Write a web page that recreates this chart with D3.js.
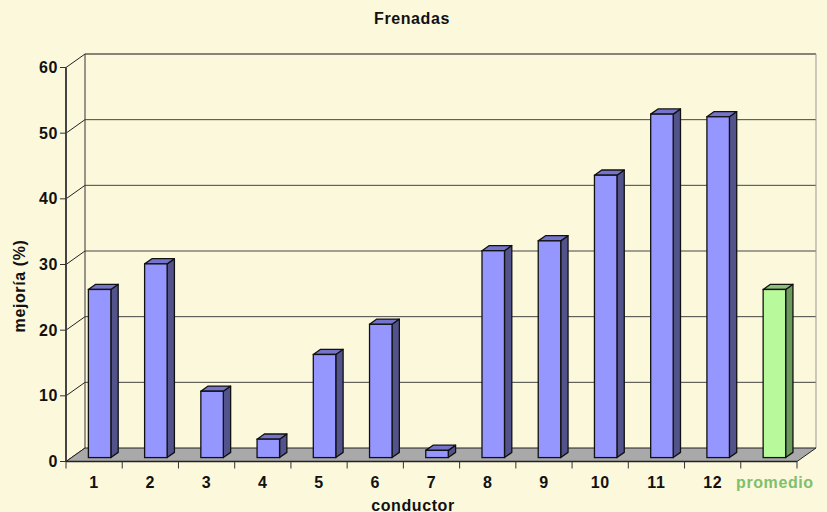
<!DOCTYPE html>
<html><head><meta charset="utf-8">
<script src="https://cdn.jsdelivr.net/npm/d3@7"></script>
<style>
html,body{margin:0;padding:0;background:#FCF8DC;}
svg{display:block;font-family:"Liberation Sans",Arial,Helvetica,sans-serif;}
</style></head>
<body><svg id="c" width="827" height="512"></svg>
<script>
const categories = ["1","2","3","4","5","6","7","8","9","10","11","12","promedio"];
const values = [25.6, 29.5, 10.1, 2.8, 15.7, 20.3, 1.1, 31.5, 33.0, 43.0, 52.3, 51.9, 25.6];
const yTicks = [0, 10, 20, 30, 40, 50, 60];
const title = "Frenadas";
const xTitle = "conductor";
const yTitle = "mejoría (%)";

const svg = d3.select("#c");
svg.append("rect").attr("width",827).attr("height",512).attr("fill","#FCF8DC");

const DX = 19, DY = -13.5;         // full depth offset
const F1 = 0.29, F2 = 0.675;        // bar front/back depth fractions
const x = d3.scaleBand().domain(categories).range([66, 797]).padding(0);
const y = d3.scaleLinear().domain([0, 60]).range([461.5, 67.5]);
const FS = 16, LS = 0.6;

// back wall gridlines + left wall diagonals
const g = svg.append("g");
yTicks.forEach(t => {
  g.append("line").attr("x1", 66).attr("y1", y(t)).attr("x2", 66+DX).attr("y2", y(t)+DY)
    .attr("stroke", "#222").attr("stroke-width", 1);
  if (t > 0) g.append("line").attr("x1", 66+DX).attr("y1", y(t)+DY).attr("x2", 797+DX).attr("y2", y(t)+DY)
    .attr("stroke", t === 60 ? "#111" : "#444").attr("stroke-width", 1);
});
g.append("line").attr("x1", 66+DX).attr("y1", y(60)+DY).attr("x2", 66+DX).attr("y2", y(0)+DY)
  .attr("stroke", "#333").attr("stroke-width", 1);
g.append("line").attr("x1", 797+DX).attr("y1", y(60)+DY).attr("x2", 797+DX).attr("y2", y(0)+DY)
  .attr("stroke", "#999").attr("stroke-width", 1);

// floor
g.append("polygon")
  .attr("points", [[66,y(0)],[797,y(0)],[797+DX,y(0)+DY],[66+DX,y(0)+DY]].map(p=>p.join(",")).join(" "))
  .attr("fill", "#A9A9A9").attr("stroke", "#222").attr("stroke-width", 1);

// bars
const bw = x.bandwidth() / 2.5;
const bars = svg.append("g");
categories.forEach((c, i) => {
  const v = values[i];
  const isAvg = c === "promedio";
  const front = isAvg ? "#B8F99C" : "#9696FF";
  const top = isAvg ? "#8CC07A" : "#7474CC";
  const side = isAvg ? "#6C9A5C" : "#53538C";
  const x0 = x(c) + (x.bandwidth() - bw) / 2 + DX*F1;
  const x1 = x0 + bw;
  const yb = y(0) + DY*F1;
  const yt = y(v) + DY*F1;
  const ddx = DX*(F2-F1), ddy = DY*(F2-F1);
  const pts = a => a.map(p=>p.join(",")).join(" ");
  bars.append("polygon").attr("points", pts([[x1,yt],[x1+ddx,yt+ddy],[x1+ddx,yb+ddy],[x1,yb]]))
    .attr("fill", side).attr("stroke", "#111").attr("stroke-width", 1.3).attr("stroke-linejoin","round");
  bars.append("polygon").attr("points", pts([[x0,yt],[x0+ddx,yt+ddy],[x1+ddx,yt+ddy],[x1,yt]]))
    .attr("fill", top).attr("stroke", "#111").attr("stroke-width", 1.3).attr("stroke-linejoin","round");
  bars.append("rect").attr("x", x0).attr("y", yt).attr("width", bw).attr("height", yb-yt)
    .attr("fill", front).attr("stroke", "#111").attr("stroke-width", 1.3);
});

// front axes
const ax = svg.append("g");
ax.append("line").attr("x1", 66).attr("y1", y(60)).attr("x2", 66).attr("y2", y(0))
  .attr("stroke", "#444").attr("stroke-width", 2);
ax.append("line").attr("x1", 66).attr("y1", y(0)).attr("x2", 797).attr("y2", y(0))
  .attr("stroke", "#222").attr("stroke-width", 1.5);
yTicks.forEach(t => {
  ax.append("line").attr("x1", 60).attr("y1", y(t)).attr("x2", 66).attr("y2", y(t))
    .attr("stroke", "#333").attr("stroke-width", 1);
  ax.append("text").attr("x", 58).attr("y", y(t)+5.5).attr("text-anchor", "end")
    .attr("font-size", FS).attr("font-weight", "bold").attr("letter-spacing", LS)
    .attr("fill", "#111").text(t);
});
const bounds = categories.map(c => x(c)).concat([797]);
bounds.forEach(b => {
  ax.append("line").attr("x1", b).attr("y1", y(0)).attr("x2", b).attr("y2", y(0)+7)
    .attr("stroke", "#333").attr("stroke-width", 1);
});
categories.forEach(c => {
  const isAvg = c === "promedio";
  ax.append("text").attr("x", x(c)+x.bandwidth()/2).attr("dx", isAvg ? 6 : 0).attr("y", 487.5)
    .attr("text-anchor", "middle")
    .attr("font-size", FS).attr("font-weight", "bold").attr("letter-spacing", LS)
    .attr("fill", isAvg ? "#80BF6C" : "#111").text(c);
});

// titles
svg.append("text").attr("x", 412).attr("y", 24).attr("text-anchor", "middle")
  .attr("font-size", FS).attr("font-weight", "bold").attr("letter-spacing", LS)
  .attr("fill", "#111").text(title);
svg.append("text").attr("x", 413).attr("y", 510.5).attr("text-anchor", "middle")
  .attr("font-size", FS).attr("font-weight", "bold").attr("letter-spacing", LS)
  .attr("fill", "#111").text(xTitle);
svg.append("text").attr("transform", "translate(25,286) rotate(-90)").attr("text-anchor", "middle")
  .attr("font-size", FS).attr("font-weight", "bold").attr("letter-spacing", LS)
  .attr("fill", "#111").text(yTitle);
</script></body></html>
